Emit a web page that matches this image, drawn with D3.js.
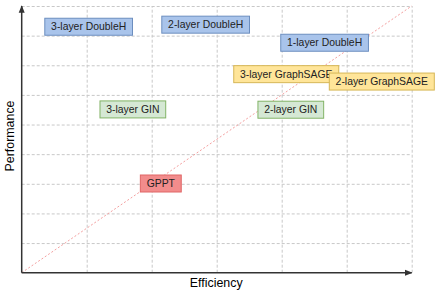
<!DOCTYPE html>
<html>
<head>
<meta charset="utf-8">
<script src="https://cdn.jsdelivr.net/npm/d3@7"></script>
<style>
  body { margin: 0; background: #fff; }
  svg { display: block; font-family: "Liberation Sans", Arial, Helvetica, sans-serif; }
</style>
</head>
<body>
<svg id="chart" width="436" height="293"></svg>
<script>
// model names and where they sit (efficiency, performance) in grid units
var models = ["3-layer DoubleH", "2-layer DoubleH", "1-layer DoubleH", "3-layer GraphSAGE",
  "2-layer GraphSAGE", "3-layer GIN", "2-layer GIN", "GPPT"];
var efficiency = [1.03, 2.83, 4.66, 4.07, 5.54, 1.71, 4.14, 2.14];
var performance = [8.30, 8.37, 7.76, 6.70, 6.45, 5.51, 5.50, 3.01];
var groups = ["DoubleH", "DoubleH", "DoubleH", "GraphSAGE", "GraphSAGE", "GIN", "GIN", "GPPT"];

var xTicks = [0, 1, 2, 3, 4, 5, 6];
var yTicks = [0, 1, 2, 3, 4, 5, 6, 7, 8, 9];

var fills = { DoubleH: "#a9c4eb", GraphSAGE: "#ffe599", GIN: "#d5e8d4", GPPT: "#f28c8c" };
var strokes = { DoubleH: "#6c8ebf", GraphSAGE: "#d6b656", GIN: "#82b366", GPPT: "#e06666" };

var margin = { top: 6, right: 24.3, bottom: 20.3, left: 21.7 },
  width = 436 - margin.left - margin.right,
  height = 293 - margin.top - margin.bottom;

var svg = d3.select("svg#chart");
var g = svg.append("g").attr("transform", "translate(" + margin.left + "," + margin.top + ")");

var xScale = d3.scaleLinear().domain([0, 6]).range([0, width]);
var yScale = d3.scaleLinear().domain([0, 9]).range([height, 0]);

// grid
g.append("g")
  .attr("class", "grid x")
  .attr("transform", "translate(0," + height + ")")
  .call(d3.axisBottom(xScale).tickValues(xTicks.slice(1)).tickSize(-height).tickFormat(""))
  .call(s => s.select(".domain").remove())
  .selectAll("line")
  .attr("stroke", "#c8c8c8")
  .attr("stroke-dasharray", "3,2");

g.append("g")
  .attr("class", "grid y")
  .call(d3.axisLeft(yScale).tickValues(yTicks.slice(1)).tickSize(-width).tickFormat(""))
  .call(s => s.select(".domain").remove())
  .selectAll("line")
  .attr("stroke", "#c8c8c8")
  .attr("stroke-dasharray", "3,2");

// diagonal
g.append("line")
  .attr("x1", xScale(0)).attr("y1", yScale(0))
  .attr("x2", xScale(6)).attr("y2", yScale(9))
  .attr("stroke", "#f4a0a0")
  .attr("stroke-width", 1)
  .attr("stroke-dasharray", "2,2");

// axes with arrows
var defs = svg.append("defs");
defs.append("marker")
  .attr("id", "arrow")
  .attr("viewBox", "0 0 10 10")
  .attr("refX", 9).attr("refY", 5)
  .attr("markerWidth", 5).attr("markerHeight", 5)
  .attr("orient", "auto")
  .append("path")
  .attr("d", "M0,1 L10,5 L0,9 z")
  .attr("fill", "#333");

g.append("line")
  .attr("x1", xScale(0)).attr("y1", yScale(0))
  .attr("x2", xScale(6)).attr("y2", yScale(0))
  .attr("stroke", "#333").attr("stroke-width", 1.5)
  .attr("marker-end", "url(#arrow)");

g.append("line")
  .attr("x1", xScale(0)).attr("y1", yScale(0))
  .attr("x2", xScale(0)).attr("y2", yScale(9))
  .attr("stroke", "#333").attr("stroke-width", 1.5)
  .attr("marker-end", "url(#arrow)");

// axis titles
svg.append("text")
  .attr("x", margin.left + width / 2 - 0.5)
  .attr("y", 287)
  .attr("text-anchor", "middle")
  .style("font-size", "12.4px")
  .style("fill", "#000")
  .text("Efficiency");

svg.append("text")
  .attr("transform", "translate(13.5,136) rotate(-90)")
  .attr("text-anchor", "middle")
  .style("font-size", "12.4px")
  .style("fill", "#000")
  .text("Performance");

// labelled boxes
var boxH = 17, pad = 6.3;
var nodes = g.selectAll("g.model")
  .data(models.map((m, i) => ({ name: m, x: efficiency[i], y: performance[i], group: groups[i] })))
  .enter().append("g")
  .attr("class", "model")
  .attr("transform", d => "translate(" + xScale(d.x) + "," + yScale(d.y) + ")");

nodes.append("rect");
nodes.append("text")
  .attr("text-anchor", "middle")
  .attr("dy", "0.35em")
  .style("font-size", "10.4px")
  .style("fill", "#222")
  .text(d => d.name);

nodes.each(function (d) {
  var node = d3.select(this);
  var w = node.select("text").node().getComputedTextLength() + 2 * pad;
  node.select("rect")
    .attr("x", -w / 2).attr("y", -boxH / 2)
    .attr("width", w).attr("height", boxH)
    .attr("fill", fills[d.group])
    .attr("stroke", strokes[d.group])
    .attr("stroke-width", 1);
});
</script>
</body>
</html>
